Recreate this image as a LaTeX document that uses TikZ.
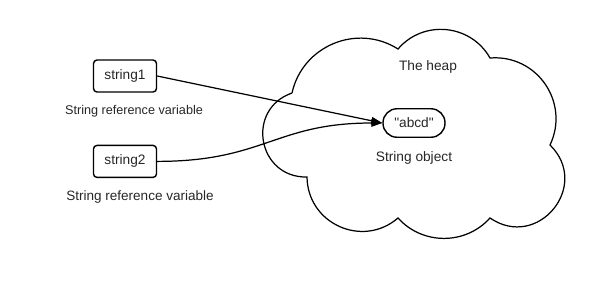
\documentclass[tikz,border=0pt]{standalone}
\usepackage{fontspec}
\setmainfont{Liberation Sans}
\usepackage{xcolor}
\usetikzlibrary{arrows.meta,positioning}

\begin{document}
\begin{tikzpicture}[
  x=0.02cm, y=-0.02cm,
  var/.style={draw, rounded corners=2pt, minimum width=1.26cm, minimum height=0.64cm, inner sep=0pt, font=\fontsize{7.8}{9}\selectfont, text=black!85, line width=0.8pt},
  obj/.style={draw, rounded corners=0.28cm, minimum width=1.24cm, minimum height=0.57cm, inner sep=0pt, font=\fontsize{7.8}{9}\selectfont, text=black!85, line width=0.8pt},
  caption/.style={inner sep=0pt, font=\fontsize{7.4}{9}\selectfont, text=black!85},
  arr/.style={-{Triangle[length=0.22cm, width=0.15cm]}, line width=0.7pt},
  heap/.style={draw, line width=0.7pt},
  node distance=1.04cm
]
  \useasboundingbox (0,0) rectangle (611,285);

  % Reference variables
  \node[var] (s1) at (125,76) {string1};
  \node[caption, font=\fontsize{7.2}{9}\selectfont] (c1) at (134,111) {String reference variable};
  \node[var, below=of s1] (s2) {string2};
  \node[caption, font=\fontsize{7.7}{9}\selectfont] (c2) at (140,197) {String reference variable};

  % Object on the heap
  \node[obj] (abcd) at (414,123) {\textquotedbl abcd\textquotedbl};
  \node[caption, font=\fontsize{7.8}{9}\selectfont, below=0.26cm of abcd] (objcap) {String object};
  \node[caption, font=\fontsize{7.8}{9}\selectfont] (heaplbl) at (428,67) {The heap};

  % Heap cloud
  \coordinate (h1) at (292,93);
  \coordinate (h2) at (398,49);
  \coordinate (h3) at (490,58);
  \coordinate (h4) at (550,145);
  \coordinate (h5) at (490,218);
  \coordinate (h6) at (398,218);
  \coordinate (h7) at (307,177);
  \draw[heap] (h1) to[bend left=55, looseness=1.08] (h2)
    to[bend left=55, looseness=1.08] (h3)
    to[bend left=60, looseness=1.14] (h4)
    to[bend left=85, looseness=1.57] (h5)
    to[bend left=48, looseness=1.02] (h6)
    to[bend left=65, looseness=1.2] (h7)
    to[bend left=81, looseness=1.48] (h1);

  % References
  \draw[arr] (s1.east) -- (abcd.west);
  \draw[arr] (s2.east) to[out=0, in=180, looseness=1.2] (abcd.west);
\end{tikzpicture}
\end{document}
